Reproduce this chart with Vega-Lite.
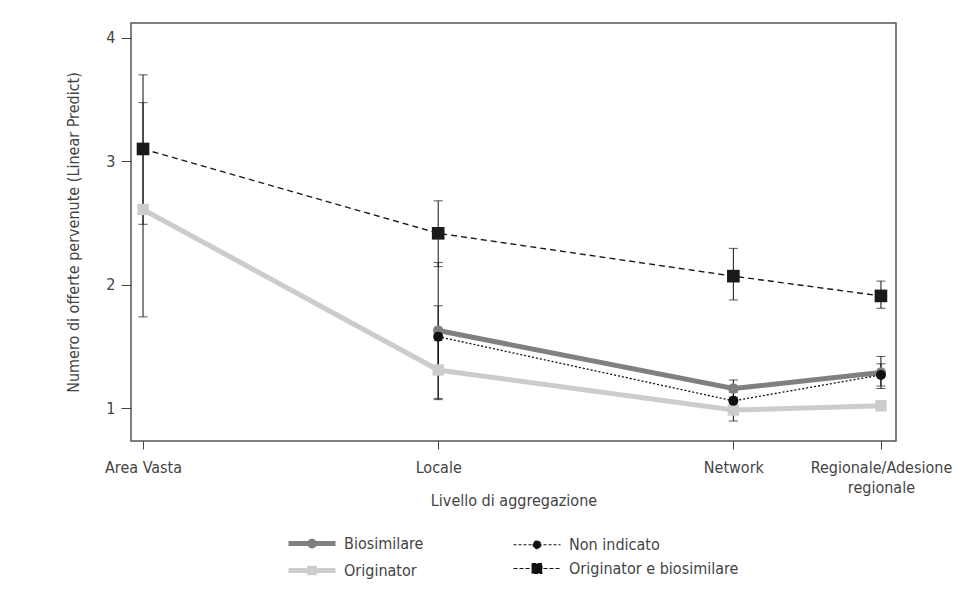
{
  "$schema": "https://vega.github.io/schema/vega-lite/v6.json",
  "autosize": {"type": "none"},
  "padding": {"left": 131, "top": 23, "right": 68, "bottom": 153},
  "width": 765,
  "height": 418,
  "background": "white",
  "config": {
    "view": {"stroke": "#555555", "strokeWidth": 1.5},
    "font": "Liberation Sans Narrow, Arial Narrow, DejaVu Sans Condensed, sans-serif",
    "axis": {
      "domain": false,
      "grid": false,
      "tickColor": "#444444",
      "labelColor": "#444444",
      "titleColor": "#444444",
      "labelFont": "Liberation Sans Narrow, Arial Narrow, DejaVu Sans Condensed, sans-serif",
      "titleFont": "Liberation Sans Narrow, Arial Narrow, DejaVu Sans Condensed, sans-serif",
      "labelFontSize": 16,
      "titleFontSize": 16,
      "titleFontWeight": "normal"
    },
    "legend": {
      "labelFont": "Liberation Sans Narrow, Arial Narrow, DejaVu Sans Condensed, sans-serif",
      "labelFontSize": 16,
      "labelColor": "#444444"
    }
  },
  "data": {
    "values": [
      {"livello": 0, "serie": "Originator", "y": 2.61, "lo": 1.74, "hi": 3.475},
      {"livello": 0, "serie": "Originator e biosimilare", "y": 3.10, "lo": 2.49, "hi": 3.70},
      {"livello": 2, "serie": "Biosimilare", "y": 1.63, "lo": 1.08, "hi": 2.18},
      {"livello": 2, "serie": "Non indicato", "y": 1.58, "lo": 1.33, "hi": 1.83},
      {"livello": 2, "serie": "Originator", "y": 1.31, "lo": 1.07, "hi": 1.55},
      {"livello": 2, "serie": "Originator e biosimilare", "y": 2.417, "lo": 2.147, "hi": 2.68},
      {"livello": 4, "serie": "Biosimilare", "y": 1.16, "lo": 1.09, "hi": 1.229},
      {"livello": 4, "serie": "Non indicato", "y": 1.06, "lo": 0.99, "hi": 1.13},
      {"livello": 4, "serie": "Originator", "y": 0.986, "lo": 0.897, "hi": 1.075},
      {"livello": 4, "serie": "Originator e biosimilare", "y": 2.07, "lo": 1.877, "hi": 2.295},
      {"livello": 5, "serie": "Biosimilare", "y": 1.29, "lo": 1.16, "hi": 1.42},
      {"livello": 5, "serie": "Non indicato", "y": 1.27, "lo": 1.18, "hi": 1.36},
      {"livello": 5, "serie": "Originator", "y": 1.02, "lo": 0.985, "hi": 1.055},
      {"livello": 5, "serie": "Originator e biosimilare", "y": 1.91, "lo": 1.81, "hi": 2.03}
    ]
  },
  "encoding": {
    "x": {
      "field": "livello",
      "type": "quantitative",
      "scale": {"domain": [-0.0815, 5.102], "nice": false, "zero": false},
      "axis": {
        "values": [0, 2, 4, 5],
        "tickSize": 8,
        "labelPadding": 10,
        "labelLineHeight": 20,
        "labelExpr": "datum.value == 0 ? 'Area Vasta' : datum.value == 2 ? 'Locale' : datum.value == 4 ? 'Network' : ['Regionale/Adesione', 'regionale']",
        "title": "Livello di aggregazione",
        "titleBaseline": "middle",
        "titleY": 59
      }
    },
    "y": {
      "field": "y",
      "type": "quantitative",
      "scale": {"domain": [0.735, 4.12], "nice": false, "zero": false},
      "axis": {
        "values": [1, 2, 3, 4],
        "tickSize": 10,
        "labelPadding": 6,
        "title": "Numero di offerte pervenute (Linear Predict)",
        "titlePadding": 24
      }
    }
  },
  "layer": [
    {
      "transform": [{"filter": "datum.serie == 'Originator'"}],
      "mark": {"type": "line", "color": "#cccccc", "strokeWidth": 5},
      "encoding": {"order": {"field": "livello", "type": "quantitative"}}
    },
    {
      "transform": [{"filter": "datum.serie == 'Biosimilare'"}],
      "mark": {"type": "line", "color": "#808080", "strokeWidth": 5},
      "encoding": {"order": {"field": "livello", "type": "quantitative"}}
    },
    {
      "transform": [{"filter": "datum.serie == 'Non indicato'"}],
      "mark": {"type": "line", "color": "#111111", "strokeWidth": 1.3, "strokeDash": [2, 2]},
      "encoding": {"order": {"field": "livello", "type": "quantitative"}}
    },
    {
      "transform": [{"filter": "datum.serie == 'Originator e biosimilare'"}],
      "mark": {"type": "line", "color": "#1a1a1a", "strokeWidth": 1.4, "strokeDash": [6, 4]},
      "encoding": {"order": {"field": "livello", "type": "quantitative"}}
    },
    {
      "mark": {"type": "errorbar", "color": "#111111", "ticks": {"size": 9}, "rule": {"strokeWidth": 1}},
      "encoding": {
        "y": {"field": "lo", "type": "quantitative"},
        "y2": {"field": "hi"},
        "detail": {"field": "serie", "type": "nominal"}
      }
    },
    {
      "transform": [{"filter": "datum.serie == 'Originator'"}],
      "mark": {"type": "point", "shape": "square", "filled": true, "opacity": 1, "color": "#cccccc", "size": 130}
    },
    {
      "transform": [{"filter": "datum.serie == 'Biosimilare'"}],
      "mark": {"type": "point", "shape": "circle", "filled": true, "opacity": 1, "color": "#808080", "size": 110}
    },
    {
      "transform": [{"filter": "datum.serie == 'Non indicato'"}],
      "mark": {"type": "point", "shape": "circle", "filled": true, "opacity": 1, "color": "#111111", "size": 100}
    },
    {
      "transform": [{"filter": "datum.serie == 'Originator e biosimilare'"}],
      "mark": {"type": "point", "shape": "square", "filled": true, "opacity": 1, "color": "#1a1a1a", "size": 160}
    },
    {
      "transform": [{"filter": "false"}],
      "mark": {"type": "point", "opacity": 1},
      "encoding": {
        "fill": {
          "field": "serie",
          "type": "nominal",
          "scale": {
            "domain": ["Biosimilare", "Non indicato", "Originator", "Originator e biosimilare"],
            "range": ["#808080", "#111111", "#cccccc", "#111111"]
          },
          "legend": {
            "title": null,
            "orient": "none",
            "legendX": 155,
            "legendY": 508,
            "columns": 2,
            "direction": "horizontal",
            "columnPadding": 87,
            "rowPadding": 2,
            "labelOffset": 33,
            "labelLimit": 0,
            "symbolOpacity": 1
          }
        },
        "stroke": {
          "field": "serie",
          "type": "nominal",
          "scale": {
            "domain": ["Biosimilare", "Non indicato", "Originator", "Originator e biosimilare"],
            "range": ["#808080", "#111111", "#cccccc", "#111111"]
          }
        },
        "shape": {
          "field": "serie",
          "type": "nominal",
          "scale": {
            "domain": ["Biosimilare", "Non indicato", "Originator", "Originator e biosimilare"],
            "range": [
              "M-1,0L3.7,0M1.585,0A0.235,0.235 0 1,1 1.115,0A0.235,0.235 0 1,1 1.585,0",
              "M-1,0L3.7,0M1.75,0A0.4,0.4 0 1,1 0.95,0A0.4,0.4 0 1,1 1.75,0",
              "M-1,0L3.7,0M1.115,-0.235L1.585,-0.235L1.585,0.235L1.115,0.235Z",
              "M-1,0L3.7,0M0.85,-0.5L1.85,-0.5L1.85,0.5L0.85,0.5Z"
            ]
          }
        },
        "size": {
          "field": "serie",
          "type": "nominal",
          "scale": {
            "domain": ["Biosimilare", "Non indicato", "Originator", "Originator e biosimilare"],
            "range": [400, 400]
          }
        },
        "strokeWidth": {
          "field": "serie",
          "type": "nominal",
          "scale": {
            "type": "ordinal",
            "domain": ["Biosimilare", "Non indicato", "Originator", "Originator e biosimilare"],
            "range": [5, 1, 5, 1]
          }
        },
        "strokeDash": {
          "field": "serie",
          "type": "nominal",
          "scale": {
            "domain": ["Biosimilare", "Non indicato", "Originator", "Originator e biosimilare"],
            "range": [[1, 0], [3, 2], [1, 0], [4, 2]]
          }
        }
      }
    }
  ]
}
